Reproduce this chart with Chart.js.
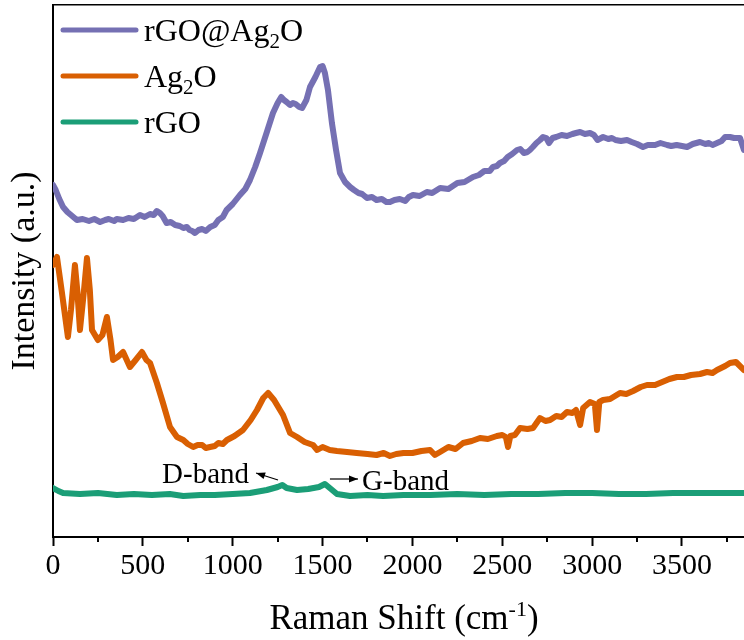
<!DOCTYPE html>
<html>
<head>
<meta charset="utf-8">
<script src="https://cdn.jsdelivr.net/npm/chart.js@4.4.1/dist/chart.umd.min.js"></script>
<style>
html,body{margin:0;padding:0;background:#ffffff;}
#c{display:block;}
</style>
</head>
<body>
<canvas id="c" width="744" height="640"></canvas>
<script>
// ---------------- data ----------------
const seriesNames = ['rGO@Ag2O', 'Ag2O', 'rGO'];
const seriesColors = ['#7570b3', '#d95f02', '#1b9e77'];

const xMajorTicks = [0, 500, 1000, 1500, 2000, 2500, 3000, 3500];
const xMinorTicks = [250, 750, 1250, 1750, 2250, 2750, 3250, 3750];

const hybridShift = [0,15,35,56,80,100,133,165,200,230,262,290,310,340,355,390,420,450,484,510,540,560,578,595,610,632,655,680,705,725,745,760,775,790,810,830,850,875,900,920,945,966,1000,1040,1070,1096,1125,1152,1190,1224,1250,1270,1285,1300,1319,1335,1350,1370,1386,1410,1430,1460,1486,1500,1513,1530,1552,1575,1597,1625,1653,1675,1700,1720,1747,1775,1800,1830,1855,1875,1900,1930,1960,1980,2003,2040,2080,2110,2154,2200,2250,2290,2337,2370,2400,2430,2448,2470,2487,2510,2530,2555,2582,2600,2620,2640,2654,2670,2690,2710,2727,2745,2760,2780,2800,2830,2860,2890,2910,2933,2960,2988,3010,3030,3061,3090,3110,3130,3160,3194,3220,3250,3283,3310,3350,3380,3417,3440,3470,3500,3528,3560,3600,3630,3650,3670,3695,3720,3740,3767,3790,3823,3845];
const hybridInt   = [352,347,338,330,325,322,317,318,316,318,315,317,318,316,318,317,319,318,322,320,323,322,326,324,321,314,315,312,311,309,310,307,306,304,307,308,306,310,312,317,320,327,333,342,348,357,370,384,405,424,434,440,437,435,432,434,433,430,429,437,450,460,470,471,464,447,414,387,364,355,350,347,344,343,339,340,337,338,335,335,337,338,336,340,342,341,345,344,349,348,354,355,360,362,366,366,370,371,374,376,380,383,387,388,384,385,387,390,394,397,400,399,394,399,400,402,401,403,404,405,403,404,402,397,400,398,399,397,396,397,395,393,390,392,392,394,392,391,392,391,390,393,395,393,394,392,394,396,400,400,399,399,387];

const ag2oShift = [0,22,50,83,100,122,135,150,170,189,205,217,250,275,300,320,334,360,390,428,460,495,520,540,578,612,651,690,725,750,780,805,830,850,874,900,920,945,968,1010,1057,1100,1135,1170,1197,1230,1280,1319,1358,1400,1447,1470,1500,1540,1580,1636,1690,1750,1800,1840,1875,1910,1950,2000,2050,2098,2125,2154,2200,2240,2282,2330,2376,2420,2470,2500,2520,2532,2545,2570,2599,2640,2671,2710,2740,2766,2800,2830,2860,2890,2910,2933,2950,2988,3015,3027,3040,3061,3100,3155,3190,3228,3270,3305,3350,3390,3430,3472,3510,3550,3600,3639,3670,3695,3740,3767,3800,3845];
const ag2oInt   = [272,280,244,200,227,272,247,207,242,279,247,207,197,202,220,197,177,180,185,170,177,185,177,174,154,134,110,100,97,93,90,92,92,89,90,91,94,93,97,101,107,117,127,139,144,137,122,104,100,95,92,87,90,87,86,85,84,83,82,84,81,83,84,84,86,87,82,85,90,88,94,96,99,98,101,102,100,90,101,102,109,108,109,119,116,117,121,120,125,124,127,112,129,135,133,107,135,137,138,144,143,146,150,152,152,155,158,160,160,162,163,165,164,167,171,174,175,167];

const rgoShift = [0,30,56,150,250,355,450,550,650,725,820,900,1000,1096,1190,1250,1276,1300,1358,1420,1480,1513,1540,1580,1653,1750,1837,1950,2100,2250,2400,2550,2700,2850,3000,3150,3300,3450,3600,3750,3845];
const rgoInt   = [49,46,44,43,44,42,43,42,43,41,42,42,43,44,47,50,52,49,47,48,50,53,49,43,41,42,41,42,42,43,42,43,43,44,44,43,43,44,44,44,44];

// annotation anchors in data units
const dBandText = {label: 'D-band', x: 1091, y: 54};
const dBandArrow = {from: [1252, 57], to: [1130, 64]};
const gBandText = {label: 'G-band', x: 1720, y: 47};
const gBandArrow = {from: [1541, 58], to: [1697, 58]};

const X_MIN = 0, X_MAX = 3845, Y_MIN = 0, Y_MAX = 532;

// ---------------- chart ----------------
function pts(xs, ys){ return xs.map((x,i)=>({x:x, y:ys[i]})); }

const SERIF = '"Liberation Serif", "Times New Roman", serif';

function drawRich(ctx, parts, x, y, align){
  let total = 0;
  parts.forEach(p=>{ ctx.font = p.size + 'px ' + SERIF; p.w = ctx.measureText(p.t).width; total += p.w; });
  let cx = align === 'center' ? x - total/2 : (align === 'right' ? x - total : x);
  ctx.textBaseline = 'alphabetic';
  ctx.textAlign = 'left';
  parts.forEach(p=>{ ctx.font = p.size + 'px ' + SERIF; ctx.fillText(p.t, cx, y + (p.dy||0)); cx += p.w; });
}

function arrow(ctx, x1, y1, x2, y2){
  ctx.beginPath(); ctx.moveTo(x1,y1); ctx.lineTo(x2,y2); ctx.stroke();
  const a = Math.atan2(y2-y1, x2-x1), L = 9, W = 3.5;
  ctx.beginPath();
  ctx.moveTo(x2, y2);
  ctx.lineTo(x2 - L*Math.cos(a) + W*Math.sin(a), y2 - L*Math.sin(a) - W*Math.cos(a));
  ctx.lineTo(x2 - L*Math.cos(a) - W*Math.sin(a), y2 - L*Math.sin(a) + W*Math.cos(a));
  ctx.closePath(); ctx.fill();
}

const decor = {
  id: 'decor',
  afterDraw(chart){
    const ctx = chart.ctx, xs = chart.scales.x, ys = chart.scales.y;
    ctx.save();
    ctx.strokeStyle = '#000'; ctx.lineWidth = 2;
    xMinorTicks.forEach(v=>{
      const px = Math.round(xs.getPixelForValue(v));
      if (px > chart.chartArea.right) return;
      ctx.beginPath(); ctx.moveTo(px, xs.top); ctx.lineTo(px, xs.top + 5); ctx.stroke();
    });
    const rows = [
      [{t:'rGO@Ag', size:32},{t:'2', size:21, dy:7},{t:'O', size:32}],
      [{t:'Ag', size:32},{t:'2', size:21, dy:7},{t:'O', size:32}],
      [{t:'rGO', size:32}]
    ];
    const rowY = [30, 76, 122];
    rows.forEach((parts,i)=>{
      ctx.strokeStyle = seriesColors[i]; ctx.lineWidth = 5; ctx.lineCap = 'round';
      ctx.beginPath(); ctx.moveTo(63, rowY[i]); ctx.lineTo(136, rowY[i]); ctx.stroke();
      ctx.fillStyle = '#000';
      drawRich(ctx, parts, 144, rowY[i] + 11, 'left');
    });
    ctx.lineCap = 'butt';
    ctx.fillStyle = '#000'; ctx.strokeStyle = '#000'; ctx.lineWidth = 1.2;
    drawRich(ctx, [{t:dBandText.label, size:29}], xs.getPixelForValue(dBandText.x), ys.getPixelForValue(dBandText.y), 'right');
    drawRich(ctx, [{t:gBandText.label, size:29}], xs.getPixelForValue(gBandText.x), ys.getPixelForValue(gBandText.y), 'left');
    arrow(ctx, xs.getPixelForValue(dBandArrow.from[0]), ys.getPixelForValue(dBandArrow.from[1]), xs.getPixelForValue(dBandArrow.to[0]), ys.getPixelForValue(dBandArrow.to[1]));
    arrow(ctx, xs.getPixelForValue(gBandArrow.from[0]), ys.getPixelForValue(gBandArrow.from[1]), xs.getPixelForValue(gBandArrow.to[0]), ys.getPixelForValue(gBandArrow.to[1]));
    drawRich(ctx, [{t:'Raman Shift (cm', size:35},{t:'-1', size:22, dy:-13},{t:')', size:35}], 404, 629, 'center');
    ctx.restore();
  }
};

new Chart(document.getElementById('c'), {
  type: 'line',
  data: {
    datasets: [
      {label: seriesNames[0], data: pts(hybridShift, hybridInt), borderColor: seriesColors[0]},
      {label: seriesNames[1], data: pts(ag2oShift, ag2oInt), borderColor: seriesColors[1]},
      {label: seriesNames[2], data: pts(rgoShift, rgoInt), borderColor: seriesColors[2]}
    ].map(d=>Object.assign(d, {borderWidth: 6, pointRadius: 0, tension: 0, fill: false, borderJoinStyle: 'round', borderCapStyle: 'round'}))
  },
  options: {
    responsive: false,
    animation: false,
    devicePixelRatio: 1,
    layout: {padding: {top: 5, left: 0, right: 0, bottom: 0}},
    plugins: {legend: {display: false}, tooltip: {enabled: false}},
    scales: {
      x: {
        type: 'linear', position: 'bottom', min: X_MIN, max: X_MAX,
        afterBuildTicks: s => { s.ticks = xMajorTicks.map(v=>({value: v})); },
        afterFit: s => { s.height = 103; },
        ticks: {font: {family: SERIF, size: 30}, color: '#000', padding: 2, maxRotation: 0, autoSkip: false, callback: v => String(v)},
        grid: {display: true, drawOnChartArea: false, drawTicks: true, tickLength: 9, tickWidth: 2, tickColor: '#000'},
        border: {display: true, color: '#000', width: 2}
      },
      xTop: {
        type: 'linear', position: 'top', min: X_MIN, max: X_MAX,
        ticks: {display: false}, grid: {display: false},
        afterFit: s => { s.height = 0; },
        border: {display: true, color: '#000', width: 1.5}
      },
      y: {
        type: 'linear', position: 'left', min: Y_MIN, max: Y_MAX,
        ticks: {display: false}, grid: {display: false},
        afterFit: s => { s.width = 53; },
        border: {display: true, color: '#000', width: 2},
        title: {display: true, text: 'Intensity (a.u.)', font: {family: SERIF, size: 34}, color: '#000', padding: {top: 5, bottom: 0}}
      }
    }
  },
  plugins: [decor]
});
</script>
</body>
</html>
